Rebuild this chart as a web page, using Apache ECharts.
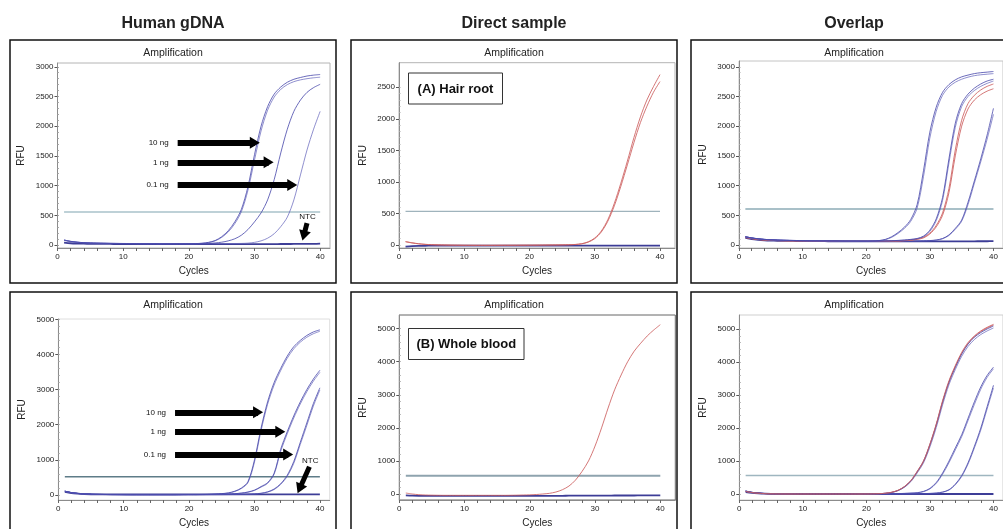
<!DOCTYPE html>
<html lang="en">
<head>
<meta charset="UTF-8">
<title>Amplification</title>
<script src="https://cdn.jsdelivr.net/npm/echarts@6.0.0/dist/echarts.min.js"></script>
<style>
  html, body { margin: 0; padding: 0; background: #fff; }
  #main { width: 1003px; height: 529px; }
</style>
</head>
<body>
<div id="main"></div>
<script>
// ---- data ----
const cycles = [1,2,3,4,5,6,7,8,9,10,11,12,13,14,15,16,17,18,19,20,21,22,23,24,25,26,27,28,29,30,31,32,33,34,35,36,37,38,39,40];

const cycleTicks = [0, 10, 20, 30, 40];
const rfuTicks3000 = [0, 500, 1000, 1500, 2000, 2500, 3000];
const rfuTicks2500 = [0, 500, 1000, 1500, 2000, 2500];
const rfuTicks5000 = [0, 1000, 2000, 3000, 4000, 5000];

// Human gDNA (top)
const gdnaTop10a = [85,62,48,40,35,32,30,28,27,26,25,24,23,22,22,21,21,21,21,22,24,30,45,75,140,240,390,600,980,1520,2000,2330,2540,2660,2740,2790,2820,2845,2860,2870];
const gdnaTop10b = [78,58,45,38,33,30,28,27,26,25,24,23,22,21,21,20,20,20,20,21,23,28,42,70,128,220,360,560,920,1430,1920,2270,2490,2620,2700,2750,2780,2800,2815,2825];
const gdnaTop1 = [80,60,46,39,34,31,29,27,26,25,24,23,22,22,21,21,21,21,21,21,22,24,28,35,48,70,105,165,260,390,540,760,1100,1550,1950,2250,2440,2570,2650,2705];
const gdnaTop01 = [85,62,48,40,35,32,30,28,27,26,25,24,23,22,22,21,21,21,21,22,21,21,22,22,23,24,25,27,32,45,70,115,190,310,470,760,1180,1600,1950,2250];
const gdnaTopNtc = [40,30,25,22,20,19,18,18,17,17,16,16,16,15,15,15,15,15,15,15,15,15,15,15,15,15,15,15,15,15,15,16,16,17,17,18,18,19,20,22];

// Direct sample (A) hair root
const hairA = [55,35,20,10,5,2,0,-2,-3,-4,-5,-5,-5,-5,-5,-4,-4,-4,-3,-3,-2,-1,0,1,2,4,8,20,50,110,220,400,660,980,1330,1700,2030,2300,2510,2700];
const hairB = [50,32,18,9,4,1,-1,-3,-4,-5,-5,-6,-6,-6,-5,-5,-5,-4,-4,-3,-3,-2,-1,0,1,3,7,18,45,100,205,375,620,930,1270,1620,1940,2200,2420,2590];
const hairNtc = [-25,-18,-14,-12,-11,-10,-10,-10,-10,-10,-10,-10,-10,-10,-10,-10,-10,-10,-10,-10,-10,-10,-10,-10,-10,-10,-10,-10,-10,-10,-10,-10,-10,-10,-10,-10,-10,-10,-10,-10];

// Overlap (top)
const ovTop10a = [140,120,105,95,88,83,80,78,76,74,72,71,70,69,68,67,66,66,65,65,68,75,95,140,210,300,430,680,1250,1900,2320,2570,2700,2780,2830,2860,2885,2900,2910,2920];
const ovTop10b = [135,116,102,92,86,81,78,76,74,72,70,69,68,67,66,65,65,64,64,64,67,73,90,130,195,280,400,620,1150,1800,2250,2520,2660,2740,2790,2825,2850,2865,2875,2885];
const ovTop1a = [140,120,105,95,88,83,80,78,76,74,72,71,70,69,68,67,66,66,65,65,65,66,68,72,78,85,95,110,150,250,440,800,1450,2050,2380,2540,2640,2710,2760,2790];
const ovTop1b = [135,116,102,92,86,81,78,76,74,72,70,69,68,67,66,65,65,64,64,64,64,65,67,70,75,82,92,105,140,230,410,750,1380,1980,2330,2500,2600,2670,2720,2760];
const ovTopRedA = [130,110,95,85,80,76,73,71,70,69,68,67,66,65,64,63,63,62,62,62,62,63,64,66,70,76,85,100,130,200,330,540,950,1600,2100,2380,2520,2610,2670,2710];
const ovTopRedB = [125,106,92,83,78,74,71,69,68,67,66,65,64,63,62,62,61,61,61,61,61,62,63,65,68,73,81,95,120,185,305,500,880,1500,2000,2290,2440,2530,2590,2630];
const ovTop01a = [140,120,105,95,88,83,80,78,76,74,72,71,70,69,68,67,66,66,65,65,65,65,65,65,66,66,67,68,70,75,85,110,170,280,420,720,1080,1450,1850,2300];
const ovTop01b = [135,116,102,92,86,81,78,76,74,72,70,69,68,67,66,65,65,64,64,64,64,64,64,64,65,65,66,67,69,73,82,105,160,265,400,680,1040,1400,1780,2200];
const ovTopNtc = [120,100,88,80,75,72,70,69,68,67,66,65,65,64,64,63,63,63,62,62,62,62,62,62,62,62,62,62,62,62,62,62,62,62,63,63,63,64,64,65];

// Human gDNA (bottom)
const gdnaBot10a = [110,70,45,30,22,18,15,13,12,11,10,10,10,10,10,10,10,10,11,12,13,15,19,27,40,60,110,200,380,1000,1900,2650,3200,3600,3950,4220,4400,4540,4640,4700];
const gdnaBot10b = [105,66,42,28,21,17,14,12,11,10,10,10,10,10,10,10,10,10,11,12,13,15,18,25,37,56,100,185,350,940,1830,2580,3130,3540,3890,4160,4350,4490,4590,4660];
const gdnaBot1a = [110,70,45,30,22,18,15,13,12,11,10,10,10,10,10,10,10,10,11,12,12,13,15,18,22,28,38,55,85,140,240,350,620,1300,1800,2250,2650,3000,3300,3550];
const gdnaBot1b = [105,66,42,28,21,17,14,12,11,10,10,10,10,10,10,10,10,10,11,12,12,13,14,17,21,27,36,52,80,130,225,330,590,1240,1740,2190,2590,2940,3240,3490];
const gdnaBot01a = [110,70,45,30,22,18,15,13,12,11,10,10,10,10,10,10,10,10,11,12,11,11,12,12,13,14,16,19,24,32,50,90,170,320,560,950,1500,2050,2600,3050];
const gdnaBot01b = [105,66,42,28,21,17,14,12,11,10,10,10,10,10,10,10,10,10,11,12,11,11,11,12,12,13,15,18,22,30,46,82,155,300,530,900,1440,1980,2530,2990];
const gdnaBotNtc = [90,55,38,28,22,19,18,17,17,17,17,17,17,17,17,17,17,17,17,17,17,17,17,17,17,17,17,17,17,17,17,17,17,18,18,18,19,19,20,20];

// Direct sample (B) whole blood
const bloodRed = [30,0,-20,-30,-35,-38,-40,-40,-40,-40,-40,-40,-40,-40,-40,-40,-38,-35,-30,-25,-15,0,20,60,130,240,420,680,1000,1450,2000,2600,3150,3600,4000,4320,4560,4780,4960,5120];
const bloodNtc = [-40,-50,-55,-55,-55,-55,-55,-55,-55,-55,-55,-55,-55,-55,-55,-55,-55,-55,-55,-55,-55,-55,-55,-55,-55,-50,-50,-50,-50,-50,-50,-50,-45,-45,-45,-45,-40,-40,-40,-40];

// Overlap (bottom)
const ovBot10a = [90,50,30,15,8,5,3,2,1,0,0,0,0,0,0,0,0,0,1,2,5,10,22,50,110,220,400,680,1000,1500,2100,2800,3400,3850,4250,4550,4760,4900,5010,5100];
const ovBot10b = [85,46,27,13,7,4,2,1,0,0,0,0,0,0,0,0,0,0,1,2,4,9,20,46,102,205,375,640,950,1430,2020,2710,3320,3780,4180,4480,4690,4840,4950,5040];
const ovBotRedA = [80,45,25,12,6,3,2,1,0,0,0,0,0,0,0,0,0,0,1,2,4,10,24,55,115,230,410,690,1010,1520,2130,2840,3440,3900,4300,4600,4800,4950,5060,5150];
const ovBotRedB = [75,42,22,10,5,2,1,0,0,0,0,0,0,0,0,0,0,0,0,1,3,9,22,52,110,222,398,672,990,1495,2100,2800,3400,3870,4270,4570,4780,4930,5040,5130];
const ovBot1a = [90,50,30,15,8,5,3,2,1,0,0,0,0,0,0,0,0,0,1,2,3,4,6,9,13,19,28,40,80,170,350,640,1000,1400,1800,2300,2800,3250,3600,3850];
const ovBot1b = [85,46,27,13,7,4,2,1,0,0,0,0,0,0,0,0,0,0,1,2,3,4,5,8,12,17,25,36,72,155,325,600,950,1340,1740,2230,2720,3180,3540,3800];
const ovBot01a = [90,50,30,15,8,5,3,2,1,0,0,0,0,0,0,0,0,0,1,2,2,2,3,3,4,5,6,8,12,18,30,60,130,300,560,950,1450,2000,2650,3300];
const ovBot01b = [85,46,27,13,7,4,2,1,0,0,0,0,0,0,0,0,0,0,1,2,2,2,2,3,3,4,5,7,10,16,27,54,120,280,530,910,1400,1940,2580,3220];
const ovBotNtc = [60,35,20,10,5,3,2,1,0,0,0,0,0,0,0,0,0,0,0,0,0,0,0,0,0,0,0,0,0,0,0,0,0,0,0,0,0,0,0,0];

// threshold RFU per panel (gDNA top, hair, overlap top, gDNA bottom, blood, overlap bottom)
const thresholds = [555, 534, 605, 520, 554, 564];

// ---- drawing ----
const FONT = '"Liberation Sans", Arial, Helvetica, sans-serif';
const BLUE = 'rgba(70,70,170,0.8)';
const BLUE2 = 'rgba(95,95,185,0.7)';
const NAVY = 'rgba(40,40,140,0.9)';
const RED = 'rgba(205,95,95,0.85)';

const arrowsTop = [
  [{ name: '10 ng', coord: [18.3, 1722] }, { coord: [30.05, 1722] }],
  [{ name: '1 ng', coord: [18.3, 1392] }, { coord: [32.15, 1392] }],
  [{ name: '0.1 ng', coord: [18.3, 1010] }, { coord: [35.75, 1010] }]
];
const ntcTop = [[{ name: 'NTC', coord: [38.0, 370] }, { coord: [37.5, 158] }]];
const arrowsBot = [
  [{ name: '10 ng', coord: [17.85, 2353] }, { coord: [30.55, 2353] }],
  [{ name: '1 ng', coord: [17.85, 1797] }, { coord: [33.95, 1797] }],
  [{ name: '0.1 ng', coord: [17.85, 1154] }, { coord: [35.15, 1154] }]
];
const ntcBot = [[{ name: 'NTC', coord: [38.4, 805] }, { coord: [36.9, 179] }]];

const panels = [
  { left: 57.5, top: 63, width: 272.5, height: 185, xMax: 41.5, yMin: -50, yMax: 3064,
    major: rfuTicks3000, minorStep: 100, frame: '#b4b4b4', thr: '#a9c2ca', thrW: 1.5,
    curves: [[gdnaTopNtc, NAVY, 1.8], [gdnaTop01, BLUE2], [gdnaTop1, BLUE], [gdnaTop10b, BLUE2], [gdnaTop10a, BLUE]],
    arrows: arrowsTop, ntc: ntcTop },
  { left: 399, top: 62.7, width: 276, height: 185.3, xMax: 42.3, yMin: -48, yMax: 2889,
    major: rfuTicks2500, minorStep: 100, frame: '#b4b4b4', thr: '#9fb3bc', thrW: 1.2,
    curves: [[hairNtc, NAVY, 1.8], [hairB, RED], [hairA, RED]] },
  { left: 739, top: 61, width: 272, height: 187, xMax: 41.5, yMin: -50, yMax: 3097,
    major: rfuTicks3000, minorStep: 100, frame: '#c4c4c4', thr: '#a9c0c8', thrW: 2,
    curves: [[ovTopNtc, NAVY, 1.8], [ovTop01b, BLUE2], [ovTop01a, BLUE], [ovTopRedB, RED], [ovTopRedA, RED],
             [ovTop1b, BLUE2], [ovTop1a, BLUE], [ovTop10b, BLUE2], [ovTop10a, BLUE]] },
  { left: 58.3, top: 319, width: 271.4, height: 181.7, xMax: 41.5, yMin: -142, yMax: 5009,
    major: rfuTicks5000, minorStep: 200, frame: '#dedede', thr: '#5e7c88', thrW: 1.5,
    curves: [[gdnaBotNtc, NAVY, 1.8], [gdnaBot01b, BLUE2], [gdnaBot01a, BLUE], [gdnaBot1b, BLUE2], [gdnaBot1a, BLUE],
             [gdnaBot10b, BLUE2], [gdnaBot10a, BLUE]],
    arrows: arrowsBot, ntc: ntcBot },
  { left: 399.3, top: 315, width: 276, height: 185, xMax: 42.3, yMin: -181, yMax: 5413,
    major: rfuTicks5000, minorStep: 200, frame: '#666', thr: '#8ea3ae', thrW: 2,
    curves: [[bloodNtc, NAVY, 1.8], [bloodRed, RED]] },
  { left: 739.3, top: 315, width: 270.6, height: 185, xMax: 41.5, yMin: -182, yMax: 5434,
    major: rfuTicks5000, minorStep: 200, frame: '#cfcfcf', thr: '#9fb6c0', thrW: 1.5,
    curves: [[ovBotNtc, NAVY, 1.8], [ovBot01b, BLUE2], [ovBot01a, BLUE], [ovBot1b, BLUE2], [ovBot1a, BLUE],
             [ovBot10b, BLUE2], [ovBotRedB, RED], [ovBot10a, BLUE], [ovBotRedA, RED]] }
];

const xMinorTicks = [];
for (let c = 0; c <= 40; c += 2) xMinorTicks.push(c);

const grid = [], xAxis = [], yAxis = [], series = [];

panels.forEach((p, i) => {
  grid.push({ left: p.left, top: p.top, width: p.width, height: p.height,
    show: true, borderColor: p.frame, borderWidth: 1, backgroundColor: 'transparent' });

  xAxis.push({
    type: 'value', gridIndex: i, min: 0, max: p.xMax,
    axisLine: { onZero: false, lineStyle: { color: '#8c8c8c', width: 1 } },
    axisTick: { show: true, customValues: xMinorTicks, length: 3, lineStyle: { color: '#666' } },
    axisLabel: { customValues: cycleTicks, formatter: v => String(v), fontSize: 8, color: '#222', margin: 5, fontFamily: FONT },
    splitLine: { show: false },
    name: 'Cycles', nameLocation: 'middle', nameGap: 18,
    nameTextStyle: { fontSize: 10, color: '#222', fontFamily: FONT }
  });

  const minor = [];
  for (let v = 0; v <= p.major[p.major.length - 1]; v += p.minorStep) minor.push(v);

  yAxis.push({
    type: 'value', gridIndex: i, min: p.yMin, max: p.yMax,
    axisLine: { show: true, onZero: false, lineStyle: { color: '#8c8c8c', width: 1 } },
    axisTick: { show: true, customValues: p.major, length: 3, lineStyle: { color: '#555' } },
    axisLabel: { customValues: p.major, formatter: v => String(v), fontSize: 8, color: '#222', margin: 4, fontFamily: FONT },
    splitLine: { show: false },
    name: 'RFU', nameLocation: 'middle', nameGap: 31,
    nameTextStyle: { fontSize: 10, color: '#222', fontFamily: FONT }
  });
  yAxis.push({
    type: 'value', gridIndex: i, min: p.yMin, max: p.yMax,
    axisLine: { show: false },
    axisTick: { show: true, customValues: minor, length: 1.5, lineStyle: { color: '#aaa' } },
    axisLabel: { show: false },
    splitLine: { show: false }
  });

  p.curves.forEach(([arr, color, w]) => {
    series.push({
      type: 'line', xAxisIndex: i, yAxisIndex: 2 * i,
      data: cycles.map((c, k) => [c, arr[k]]),
      showSymbol: false, smooth: 0.3, silent: true, animation: false, z: 3,
      lineStyle: { width: w || 1, color: color }
    });
  });

  const thr = {
    type: 'line', xAxisIndex: i, yAxisIndex: 2 * i,
    data: [[1, thresholds[i]], [40, thresholds[i]]],
    showSymbol: false, silent: true, animation: false, z: 2,
    lineStyle: { width: p.thrW, color: p.thr }
  };
  if (p.arrows) {
    thr.markLine = {
      silent: true, animation: false, z: 5,
      symbol: ['none', 'triangle'], symbolSize: [12, 10],
      lineStyle: { color: '#000', width: 6, type: 'solid', opacity: 1 },
      label: { show: true, position: 'start', formatter: '{b}', fontSize: 8, color: '#111', distance: 9, fontFamily: FONT },
      data: p.arrows.concat(p.ntc.map(d => [Object.assign({}, d[0], {
        label: { distance: 2 }, lineStyle: { width: 5 } }), d[1]]))
    };
  }
  series.push(thr);
});

const graphic = [];
// column titles
[['Human gDNA', 173], ['Direct sample', 514], ['Overlap', 854]].forEach(([t, x]) => {
  graphic.push({ type: 'text', style: { text: t, x: x, y: 24, align: 'center', verticalAlign: 'middle',
    font: 'bold 16px ' + FONT, fill: '#222' } });
});
// panel frames and "Amplification" headers
[[10, 40, 243], [351, 40, 243], [691, 40, 243], [10, 292, 240], [351, 292, 240], [691, 292, 240]].forEach(([x, y, h], k) => {
  graphic.push({ type: 'rect', shape: { x: x, y: y, width: 326, height: h },
    style: { fill: 'none', stroke: '#111', lineWidth: 1.5 } });
  graphic.push({ type: 'text', style: { text: 'Amplification', x: x + 163, y: k < 3 ? 53 : 305,
    align: 'center', verticalAlign: 'middle', font: '10.5px ' + FONT, fill: '#222' } });
});
// sample labels
[['(A) Hair root', 408.5, 73, 94, 31], ['(B) Whole blood', 408.5, 328.5, 115.5, 31]].forEach(([t, x, y, w, h]) => {
  graphic.push({ type: 'rect', shape: { x: x, y: y, width: w, height: h },
    style: { fill: '#fff', stroke: '#333', lineWidth: 1 }, z: 10 });
  graphic.push({ type: 'text', style: { text: t, x: x + w / 2, y: y + h / 2 + 0.5, align: 'center',
    verticalAlign: 'middle', font: 'bold 13px ' + FONT, fill: '#111' }, z: 11 });
});

const chart = echarts.init(document.getElementById('main'), null, { renderer: 'canvas' });
chart.setOption({
  animation: false,
  backgroundColor: '#fff',
  grid: grid,
  xAxis: xAxis,
  yAxis: yAxis,
  series: series,
  graphic: graphic
});
</script>
</body>
</html>
